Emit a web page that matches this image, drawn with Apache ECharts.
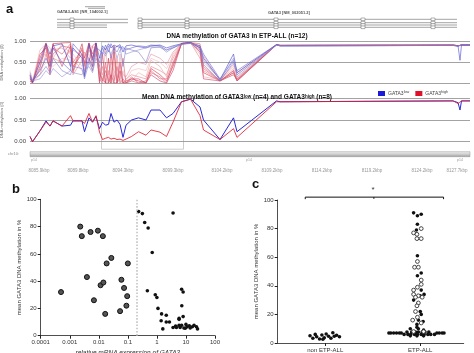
<!DOCTYPE html>
<html>
<head>
<meta charset="utf-8">
<script src="https://cdn.jsdelivr.net/npm/echarts/dist/echarts.min.js"></script>
<style>
  html, body { margin: 0; padding: 0; background: #fff; }
  #chart { width: 474px; height: 353px; }
</style>
</head>
<body>
<div id="chart"></div>
<script>
// ---- panel a: CpG positions (kb from 8,085,000) and methylation values ----
const cpgPos = [0, .25, 1.0, 1.6, 2.0, 2.3, 3.2, 4.05, 4.3, 5.2, 5.45, 5.9, 6.25, 6.6, 6.95, 7.25, 7.55, 7.85, 8.1, 8.4, 8.7, 9.0, 9.3, 9.6, 10.15, 10.85, 11.6, 12.1, 13.0, 13.65, 14.3, 15.15, 16.05, 17.0, 17.35, 19.0, 20.35, 20.7, 24.65, 25.0, 42.3, 42.8, 43.0, 43.15, 44.0];

// GATA3 low samples (blue)
const low1 = [.20, .02, .50, .95, .70, .90, .95, .40, .85, .60, .15, .95, .55, .97, .60, .90, .80, .95, .85, .92, .88, .93, .75, .90, .92, .88, .85, .90, .92, .85, .90, .95, .98, .85, .60, .08, .70, .25, .93, .90, .91, .90, .55, .92, .92];
const low2 = [.10, .05, .30, .60, .40, .85, .50, .30, .95, .70, .20, .60, .40, .85, .80, .70, .92, .75, .95, .80, .90, .85, .88, .80, .85, .90, .88, .92, .90, .80, .85, .95, .97, .90, .70, .10, .55, .30, .93, .90, .91, .90, .88, .92, .92];
const low3 = [.15, .08, .20, .40, .25, .60, .30, .20, .40, .35, .10, .50, .30, .70, .50, .85, .70, .90, .60, .85, .75, .90, .40, .85, .80, .75, .50, .85, .88, .75, .85, .93, .96, .80, .45, .05, .50, .20, .92, .90, .91, .89, .88, .92, .92];
const low4 = [.25, .05, .10, .30, .20, .35, .15, .30, .25, .20, .30, .40, .25, .60, .40, .75, .65, .80, .70, .88, .60, .80, .85, .70, .75, .80, .85, .88, .86, .80, .88, .94, .97, .88, .55, .08, .60, .15, .92, .90, .91, .89, .88, .92, .92];
// GATA3 high samples (red)
const high1 = [.15, .02, .60, .97, .50, .95, .97, .98, .30, .95, .60, .97, .60, .95, .20, .10, .00, .60, .00, .90, .00, .30, .00, .05, .10, .05, .00, .35, .20, .05, .40, .95, .98, .75, .25, .05, .20, .08, .93, .91, .92, .90, .89, .92, .92];
const high2 = [.10, .00, .40, .90, .60, .85, .70, .95, .50, .80, .40, .90, .70, .97, .10, .00, .50, .00, .70, .05, .40, .00, .10, .00, .15, .00, .05, .30, .10, .10, .50, .96, .98, .90, .40, .05, .30, .10, .93, .91, .92, .90, .89, .92, .92];
const high3 = [.05, .03, .20, .70, .30, .60, .50, .80, .20, .55, .75, .60, .30, .85, .05, .40, .00, .30, .05, .00, .60, .05, .00, .10, .20, .15, .10, .40, .30, .20, .60, .95, .98, .60, .30, .05, .25, .05, .92, .91, .92, .90, .89, .92, .92];
const high4 = [.20, .05, .80, .95, .85, .60, .95, .70, .60, .30, .20, .95, .85, .90, .30, .05, .85, .10, .00, .50, .00, .70, .05, .00, .05, .25, .15, .55, .40, .15, .70, .95, .97, .70, .15, .08, .35, .12, .93, .91, .92, .90, .89, .92, .92];
const high5 = [.30, .08, .30, .50, .45, .40, .60, .55, .70, .40, .55, .70, .50, .75, .20, .00, .20, .00, .40, .00, .20, .00, .30, .05, .30, .35, .30, .60, .50, .35, .65, .94, .97, .80, .50, .10, .40, .20, .92, .91, .92, .90, .89, .92, .92];
const high6 = [.05, .00, .70, .85, .20, .95, .40, .90, .40, .70, .50, .50, .90, .97, .00, .70, .00, .00, .20, .00, .00, .50, .00, .00, .10, .10, .00, .20, .05, .00, .30, .96, .98, .85, .10, .05, .25, .05, .93, .91, .92, .90, .89, .92, .92];
const high7 = [.18, .04, .50, .75, .70, .80, .85, .60, .80, .65, .30, .80, .60, .88, .40, .20, .40, .20, .50, .30, .10, .40, .20, .15, .40, .50, .45, .70, .60, .45, .75, .95, .97, .85, .65, .06, .45, .25, .92, .91, .92, .90, .89, .92, .92];
const high8 = [.12, .02, .35, .95, .40, .70, .90, .85, .25, .85, .45, .97, .40, .92, .25, .05, .30, .05, .00, .75, .00, .10, .60, .00, .05, .00, .00, .25, .15, .00, .45, .95, .98, .95, .35, .05, .30, .05, .93, .91, .92, .90, .89, .92, .92];

// group means
const meanLow = [.12, 0, .25, .48, .36, .48, .36, .38, .48, .48, .23, .55, .45, .58, .30, .45, .38, .40, .65, .45, .50, .40, .10, .38, .50, .55, .50, .73, .73, .55, .65, .92, .98, .80, .50, .05, .55, .23, .94, .92, .94, .90, .73, .94, .94];
const meanHigh = [.12, 0, .25, .45, .36, .48, .36, .60, .48, .48, .42, .65, .45, .60, .22, .05, .08, .10, .06, .08, .05, .06, .03, .06, .12, .23, .15, .27, .22, .12, .45, .92, .98, .60, .27, .05, .30, .10, .92, .92, .94, .88, .90, .94, .94];

// gene model (kb offsets) and genome coordinate tick labels
const txStart = [5.5, 5.8, 2.7, 11.0, 2.7, 11.0, 2.7, 11.0, 2.7, 11.0];
const txEnd   = [7.5, 7.5, 9.8, 42.7, 9.8, 42.7, 7.7, 42.7, 7.7, 42.7];
const txRow   = [2.7, 4.3, 15.3, 15.3, 18.7, 18.7, 21, 21, 23.3, 23.3];
const exonPos = [4.2, 11.0, 15.7, 24.6, 33.3, 40.3];
const exonRows = [15.3, 18.7, 21, 23.3];
const coordTicks = [0.9, 4.8, 9.3, 14.3, 19.2, 24.2, 29.2, 34.2, 39.2, 42.7];

// ---- panel b ----
const bLowExpr = [0.0005, 0.0023, 0.0026, 0.0052, 0.0039, 0.0093, 0.0138, 0.0068, 0.0115, 0.0144, 0.0186, 0.027, 0.0166, 0.1, 0.06, 0.074, 0.095, 0.089, 0.054];
const bLowMeth = [32, 80, 73, 76, 43, 77, 73, 26, 37, 39, 53, 57, 16, 53, 41, 35, 29, 22, 18];
const bHighExpr = [0.235, 0.316, 0.38, 0.50, 0.69, 0.47, 3.6, 0.88, 1.0, 1.09, 1.45, 1.4, 1.6, 2.1, 2.1, 2.7, 3.6, 4.4, 5.8, 7.1, 7.1, 8.0, 7.2, 8.0, 5.8, 5.8, 10, 11, 13, 16.6, 23, 25, 6.3, 8.5, 14, 19, 9.5, 4.7];
const bHighMeth = [91, 89.5, 83, 79, 61, 33, 90, 30, 28, 20, 16, 11, 5, 15, 10, 10, 6, 7, 7.6, 7.6, 34, 32, 22, 14, 12.7, 12, 8.3, 6.6, 7.3, 6.6, 6.6, 5, 6, 5.6, 5.6, 7.6, 5.5, 6];
const bCutoff = 0.2;

// ---- panel c ----
const cCategories = ['non ETP-ALL', 'ETP-ALL'];
const nonVal = [5.1, 3.3, 6.0, 4.4, 2.8, 5.6, 3.7, 6.3, 4.7, 3.3, 7.2, 4.7, 5.4, 4.4, 2.6];
const nonOff = [-0.16, -0.13, -0.105, -0.09, -0.06, -0.035, -0.01, 0.01, 0.035, 0.06, 0.08, 0.095, 0.12, 0.15, -0.025];
const etpFilledVal = [91, 90, 89, 83, 79, 61, 49, 47, 37, 34, 33, 30, 22, 20, 16, 15, 13, 11, 10, 10, 9,
  7.7, 7.7, 7.7, 7.7, 7.7, 7.7, 7.7,
  7, 7, 7, 7, 7, 7, 7, 7, 7, 7,
  6, 6, 6, 6, 6, 6, 6, 6, 6, 6,
  5, 5, 5];
const etpFilledOff = [-0.07, 0.01, -0.03, -0.03, -0.04, -0.03, 0.01, -0.03, 0.01, 0.04, 0.0, -0.07, 0.0, 0.01, -0.02, 0.03, -0.035, -0.035, -0.105, -0.02, 0.035,
  -0.14, -0.09, -0.05, -0.02, 0.02, 0.05, 0.09,
  -0.33, -0.31, -0.28, -0.25, -0.22, -0.2, 0.175, 0.2, 0.23, 0.25,
  -0.17, -0.13, -0.1, -0.06, -0.03, 0.01, 0.04, 0.08, 0.11, 0.15,
  -0.105, -0.035, 0.035];
const etpOpenVal = [80, 77, 76, 73, 73, 57, 53, 53, 44, 41, 39, 37, 34, 33, 32, 32, 28, 26, 22, 18, 16, 14, 8, 8];
const etpOpenOff = [0.01, -0.07, -0.035, -0.035, 0.01, -0.03, -0.06, -0.02, 0.01, 0.01, -0.03, -0.07, -0.07, -0.02, -0.05, 0.02, -0.02, -0.035, -0.05, -0.03, -0.08, 0.01, -0.07, 0.035];
const bracketX = [0.79, 0.79, 2.245, 2.245];
const bracketY = [100.6, 102, 102, 100.6];
const midTickX = [1.512, 1.512];
const midTickY = [102, 100.8];

const FONT = 'Liberation Sans';
const chart = echarts.init(document.getElementById('chart'));

const zip = (xs, ys) => xs.map((x, i) => [x, ys[i]]);
const offs = (center, o) => o.map(v => center + v);

const lowSamples = [low1, low2, low3, low4];
const highSamples = [high1, high2, high3, high4, high5, high6, high7, high8];
const lowColors = ['#3a3ac8', '#5a5ad0', '#7a74c8', '#9088d0'];
const highColors = ['#d8203a', '#e04a62', '#e87a86', '#eea0a0', '#f0b4b8', '#c83060', '#e08aa0', '#d05a6a'];

const sampleSeries = [];
highSamples.forEach((s, i) => {
  sampleSeries.push({
    type: 'line', xAxisIndex: 1, yAxisIndex: 1, data: zip(cpgPos, s),
    symbol: 'none', silent: true,
    lineStyle: { color: highColors[i], width: 0.8, opacity: 0.7 }
  });
});
lowSamples.forEach((s, i) => {
  sampleSeries.push({
    type: 'line', xAxisIndex: 1, yAxisIndex: 1, data: zip(cpgPos, s),
    symbol: 'none', silent: true,
    lineStyle: { color: lowColors[i], width: 0.8, opacity: 0.7 }
  });
});

const txData = txStart.map((s, i) => [s, txEnd[i], txRow[i]]);
const exonData = [];
exonRows.forEach(r => exonPos.forEach(p => exonData.push([p, r])));

const hiddenAxis = { show: false };
const smallLabel = { fontSize: 6, color: '#333', fontFamily: FONT };
const blackLine = { show: true, lineStyle: { color: '#222', width: 0.8 } };

const option = {
  animation: false,
  backgroundColor: '#fff',
  textStyle: { fontFamily: FONT },
  title: [
    {
      text: 'DNA methylation of GATA3 in ETP-ALL (n=12)',
      left: 'center', top: 28,
      textStyle: { fontSize: 6.5, fontWeight: 'bold', color: '#111', fontFamily: FONT }
    },
    {
      text: 'Mean DNA methylation of GATA3{s|low} (n=4) and GATA3{s|high} (n=8)',
      left: 'center', top: 89,
      textStyle: {
        fontSize: 6.5, fontWeight: 'bold', color: '#111', fontFamily: FONT,
        rich: { s: { fontSize: 4.5, fontWeight: 'bold', verticalAlign: 'top', lineHeight: 6, padding: [0, 0, 3, 0] } }
      }
    }
  ],
  legend: {
    data: ['low', 'high'],
    orient: 'horizontal',
    left: 378, top: 90, width: 140, padding: 0,
    icon: 'rect', itemWidth: 7, itemHeight: 5, itemGap: 6,
    formatter: name => 'GATA3{s|' + name + '}',
    textStyle: {
      fontSize: 5, color: '#444', fontFamily: FONT, padding: [0, 0, 0, -2],
      rich: { s: { fontSize: 3.8, verticalAlign: 'top', padding: [0, 0, 3, 0] } }
    }
  },
  grid: [
    { left: 30, top: 4, width: 440, height: 26, outerBoundsMode: 'none' },
    { left: 30, top: 41.7, width: 440, height: 41.3, outerBoundsMode: 'none' },
    { left: 30, top: 98.3, width: 440, height: 43.4, outerBoundsMode: 'none' },
    {
      left: 30, top: 151.7, width: 440, height: 5, outerBoundsMode: 'none',
      show: true, borderColor: '#999', borderWidth: 0.5,
      backgroundColor: new echarts.graphic.LinearGradient(0, 0, 0, 1, [
        { offset: 0, color: '#f2f2f2' }, { offset: 0.5, color: '#cfcfcf' }, { offset: 1, color: '#9a9a9a' }
      ])
    },
    { left: 40.7, top: 199.3, width: 174.3, height: 136.4, outerBoundsMode: 'none' },
    { left: 277.7, top: 200, width: 186, height: 143, outerBoundsMode: 'none' }
  ],
  xAxis: [
    { gridIndex: 0, type: 'value', min: 0, max: 44, ...hiddenAxis },
    { gridIndex: 1, type: 'value', min: 0, max: 44, ...hiddenAxis },
    { gridIndex: 2, type: 'value', min: 0, max: 44, ...hiddenAxis },
    {
      gridIndex: 3, type: 'value', min: 0, max: 44,
      axisLine: { show: false }, axisTick: { show: false }, splitLine: { show: false },
      axisLabel: {
        customValues: coordTicks, margin: 12, fontSize: 4.5, color: '#999', fontFamily: FONT,
        formatter: v => (8085 + v).toFixed(1) + 'kbp'
      }
    },
    {
      gridIndex: 4, type: 'log', logBase: 10, min: 0.0001, max: 100,
      axisLine: blackLine, axisTick: { show: true, length: 3, lineStyle: { color: '#222' } },
      splitLine: { show: false },
      axisLabel: { ...smallLabel, margin: 4, formatter: v => String(+(+v).toPrecision(2)) },
      name: 'relative mRNA expression of GATA3', nameLocation: 'middle', nameGap: 14,
      nameTextStyle: { fontSize: 6.5, fontStyle: 'italic', color: '#333', fontFamily: FONT }
    },
    {
      gridIndex: 5, type: 'value', min: 0.5, max: 2.457,
      axisLine: blackLine, splitLine: { show: false },
      axisTick: { show: true, customValues: [1, 2], length: 3, lineStyle: { color: '#222' } },
      axisLabel: {
        ...smallLabel, fontSize: 6, margin: 4, customValues: [1, 2],
        formatter: v => cCategories[Math.round(v) - 1]
      }
    }
  ],
  yAxis: [
    { gridIndex: 0, type: 'value', min: 0, max: 26, inverse: true, ...hiddenAxis },
    {
      gridIndex: 1, type: 'value', min: 0, max: 1, interval: 0.5,
      axisLine: { show: false }, axisTick: { show: false },
      splitLine: { lineStyle: { color: '#8c8c8c', width: 0.8 } },
      axisLabel: { fontSize: 6, color: '#444', margin: 4, fontFamily: FONT, formatter: v => v.toFixed(2) },
      name: 'DNA methylation (β)', nameLocation: 'middle', nameGap: 14,
      nameTextStyle: { fontSize: 4, color: '#666', fontFamily: FONT }
    },
    {
      gridIndex: 2, type: 'value', min: 0, max: 1, interval: 0.5,
      axisLine: { show: false }, axisTick: { show: false },
      splitLine: { lineStyle: { color: '#8c8c8c', width: 0.8 } },
      axisLabel: { fontSize: 6, color: '#444', margin: 4, fontFamily: FONT, formatter: v => v.toFixed(2) },
      name: 'DNA methylation (β)', nameLocation: 'middle', nameGap: 14,
      nameTextStyle: { fontSize: 4, color: '#666', fontFamily: FONT }
    },
    { gridIndex: 3, type: 'value', min: 0, max: 1, ...hiddenAxis },
    {
      gridIndex: 4, type: 'value', min: 0, max: 100, interval: 20,
      axisLine: blackLine, axisTick: { show: true, length: 3, lineStyle: { color: '#222' } },
      splitLine: { show: false },
      axisLabel: { ...smallLabel, margin: 4 },
      name: 'mean GATA3 DNA methylation in %', nameLocation: 'middle', nameGap: 16,
      nameTextStyle: { fontSize: 6, color: '#333', fontFamily: FONT }
    },
    {
      gridIndex: 5, type: 'value', min: 0, max: 100, interval: 20,
      axisLine: blackLine, axisTick: { show: true, length: 3, lineStyle: { color: '#222' } },
      splitLine: { show: false },
      axisLabel: { ...smallLabel, margin: 4 },
      name: 'mean GATA3 DNA methylation in %', nameLocation: 'middle', nameGap: 16,
      nameTextStyle: { fontSize: 6, color: '#333', fontFamily: FONT }
    }
  ],
  series: [
    // gene track
    {
      type: 'custom', xAxisIndex: 0, yAxisIndex: 0, silent: true, data: txData,
      renderItem: (params, api) => {
        const s = api.coord([api.value(0), api.value(2)]);
        const e = api.coord([api.value(1), api.value(2)]);
        return { type: 'line', shape: { x1: s[0], y1: s[1], x2: e[0], y2: e[1] }, style: { stroke: '#666', lineWidth: 0.6 } };
      }
    },
    {
      type: 'custom', xAxisIndex: 0, yAxisIndex: 0, silent: true, data: exonData,
      renderItem: (params, api) => {
        const c = api.coord([api.value(0), api.value(1)]);
        return { type: 'rect', shape: { x: c[0] - 2, y: c[1] - 1.3, width: 4, height: 2.6 }, style: { fill: '#fff', stroke: '#666', lineWidth: 0.5 } };
      }
    },
    ...sampleSeries,
    {
      name: 'low', type: 'line', xAxisIndex: 2, yAxisIndex: 2, data: zip(cpgPos, meanLow),
      symbol: 'none', itemStyle: { color: '#1a1ad8' }, lineStyle: { color: '#2a2ad8', width: 1 }
    },
    {
      name: 'high', type: 'line', xAxisIndex: 2, yAxisIndex: 2, data: zip(cpgPos, meanHigh),
      symbol: 'none', itemStyle: { color: '#e0102a' }, lineStyle: { color: '#e0202e', width: 1, opacity: 0.85 }
    },
    // panel b
    {
      type: 'scatter', xAxisIndex: 4, yAxisIndex: 4, data: zip(bLowExpr, bLowMeth),
      symbolSize: 5, itemStyle: { color: '#555', borderColor: '#111', borderWidth: 1, opacity: 1 },
      markLine: {
        silent: true, symbol: 'none', label: { show: false },
        lineStyle: { color: '#c4c4c4', type: 'dotted', width: 1.6 },
        data: [{ xAxis: bCutoff }]
      }
    },
    {
      type: 'scatter', xAxisIndex: 4, yAxisIndex: 4, data: zip(bHighExpr, bHighMeth),
      symbolSize: 3.6, itemStyle: { color: '#111', opacity: 1 }
    },
    // panel c
    {
      type: 'scatter', xAxisIndex: 5, yAxisIndex: 5, data: zip(offs(1, nonOff), nonVal),
      symbolSize: 3.6, itemStyle: { color: '#111', opacity: 1 }
    },
    {
      type: 'scatter', xAxisIndex: 5, yAxisIndex: 5, data: zip(offs(2, etpFilledOff), etpFilledVal),
      symbolSize: 3.6, itemStyle: { color: '#111', opacity: 1 }
    },
    {
      type: 'scatter', xAxisIndex: 5, yAxisIndex: 5, data: zip(offs(2, etpOpenOff), etpOpenVal),
      symbolSize: 3.8, itemStyle: { color: '#fff', borderColor: '#333', borderWidth: 0.9, opacity: 1 }
    },
    {
      type: 'line', xAxisIndex: 5, yAxisIndex: 5, data: zip(bracketX, bracketY), clip: false,
      symbol: 'none', silent: true, lineStyle: { color: '#111', width: 1 }
    },
    {
      type: 'line', xAxisIndex: 5, yAxisIndex: 5, data: zip(midTickX, midTickY), clip: false,
      symbol: 'none', silent: true, lineStyle: { color: '#111', width: 1 }
    }
  ],
  graphic: [
    { type: 'text', left: 6, top: 3, style: { text: 'a', fontSize: 13, fontWeight: 'bold', fill: '#111', fontFamily: FONT } },
    { type: 'text', left: 12, top: 183, style: { text: 'b', fontSize: 13, fontWeight: 'bold', fill: '#111', fontFamily: FONT } },
    { type: 'text', left: 252, top: 178, style: { text: 'c', fontSize: 13, fontWeight: 'bold', fill: '#111', fontFamily: FONT } },
    { type: 'text', left: 57, top: 10, style: { text: 'GATA3-AS1 [NR_104002.1]', fontSize: 4, fontWeight: 'bold', fill: '#555', fontFamily: FONT } },
    { type: 'text', left: 268, top: 11, style: { text: 'GATA3 [NM_002051.2]', fontSize: 4, fontWeight: 'bold', fill: '#555', fontFamily: FONT } },
    { type: 'text', left: 8, top: 152, style: { text: 'chr10:', fontSize: 4, fill: '#888', fontFamily: FONT } },
    { type: 'text', left: 31, top: 158, style: { text: 'p14', fontSize: 3.5, fill: '#999', fontFamily: FONT } },
    { type: 'text', left: 246, top: 158, style: { text: 'p14', fontSize: 3.5, fill: '#999', fontFamily: FONT } },
    { type: 'text', left: 457, top: 158, style: { text: 'p14', fontSize: 3.5, fill: '#999', fontFamily: FONT } },
    {
      type: 'rect', left: 99, top: 39.3, silent: true,
      shape: { width: 82, height: 107.4 },
      style: { fill: 'none', stroke: '#b8b8b8', lineWidth: 0.7 }
    },
    { type: 'text', left: 371.5, top: 186, style: { text: '*', fontSize: 8, fill: '#333', fontFamily: FONT } }
  ]
};

chart.setOption(option);
</script>
</body>
</html>
